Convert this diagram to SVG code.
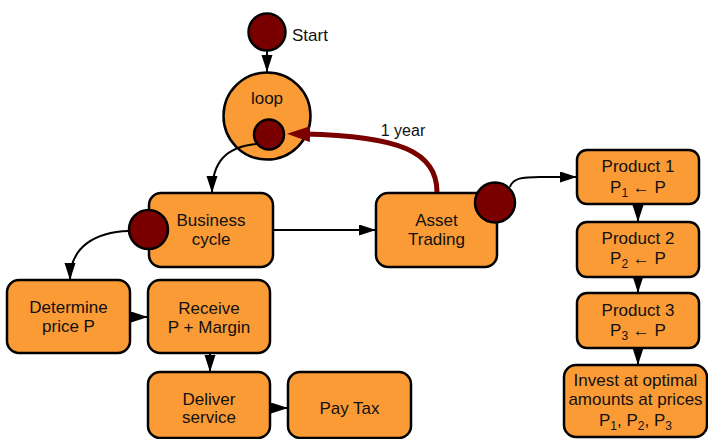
<svg xmlns="http://www.w3.org/2000/svg" width="708" height="439" viewBox="0 0 708 439">
<style>
.box{fill:#FB9B36;stroke:#000;stroke-width:2.5}
.dot{fill:#7A0000;stroke:#000;stroke-width:2.5}
.t{font-family:"Liberation Sans",Arial,sans-serif;font-size:17px;fill:#111;text-anchor:middle}
.c{fill:none;stroke:#000;stroke-width:2}
.sub{font-size:12px}
</style>
<defs>
<marker id="ah" markerUnits="userSpaceOnUse" markerWidth="18" markerHeight="12" refX="17" refY="5.5" orient="auto">
<path d="M0,0 L17,5.5 L0,11 z" fill="#000"/>
</marker>
<marker id="rh" markerUnits="userSpaceOnUse" markerWidth="24" markerHeight="18" refX="6" refY="8" orient="auto">
<path d="M0,0 L23,8 L0,16 z" fill="#7A0000"/>
</marker>
</defs>

<g id="start">
<circle class="dot" cx="267" cy="32" r="18.5"/>
<text class="t" x="292" y="41" style="text-anchor:start">Start</text>
</g>

<g id="loop">
<circle class="box" cx="267" cy="116" r="43.5"/>
<text class="t" x="267" y="104">loop</text>
<circle class="dot" cx="269" cy="134.5" r="15"/>
</g>

<text class="t" x="403" y="136" style="font-size:16px">1 year</text>

<g id="business">
<rect class="box" x="149" y="193" width="124" height="74" rx="12"/>
<text class="t" x="211" y="226">Business</text>
<text class="t" x="211" y="245">cycle</text>
<circle class="dot" cx="148.5" cy="229.5" r="19.5"/>
</g>

<g id="asset">
<rect class="box" x="376" y="193" width="121" height="74" rx="12"/>
<text class="t" x="436.5" y="226">Asset</text>
<text class="t" x="436.5" y="245">Trading</text>
<circle class="dot" cx="495" cy="202.5" r="20"/>
</g>

<g id="determine">
<rect class="box" x="7" y="280" width="123" height="73" rx="12"/>
<text class="t" x="68.5" y="313">Determine</text>
<text class="t" x="68.5" y="332">price P</text>
</g>

<g id="receive">
<rect class="box" x="148" y="280" width="122" height="73" rx="12"/>
<text class="t" x="209" y="314">Receive</text>
<text class="t" x="209" y="333">P + Margin</text>
</g>

<g id="deliver">
<rect class="box" x="148" y="372" width="122" height="66" rx="12"/>
<text class="t" x="209" y="405">Deliver</text>
<text class="t" x="209" y="423">service</text>
</g>

<g id="paytax">
<rect class="box" x="288" y="372" width="123" height="66" rx="12"/>
<text class="t" x="349.5" y="414">Pay Tax</text>
</g>

<g id="product1">
<rect class="box" x="577" y="150" width="122" height="54" rx="10"/>
<text class="t" x="638" y="172">Product 1</text>
<text class="t" x="638" y="193">P<tspan class="sub" dy="4">1</tspan><tspan dy="-4"> ← P</tspan></text>
</g>

<g id="product2">
<rect class="box" x="577" y="222" width="122" height="55" rx="10"/>
<text class="t" x="638" y="244">Product 2</text>
<text class="t" x="638" y="264">P<tspan class="sub" dy="4">2</tspan><tspan dy="-4"> ← P</tspan></text>
</g>

<g id="product3">
<rect class="box" x="577" y="293" width="122" height="55" rx="10"/>
<text class="t" x="638" y="316">Product 3</text>
<text class="t" x="638" y="336">P<tspan class="sub" dy="4">3</tspan><tspan dy="-4"> ← P</tspan></text>
</g>

<g id="invest">
<rect class="box" x="564" y="365" width="143" height="72" rx="12"/>
<text class="t" x="635.5" y="386">Invest at optimal</text>
<text class="t" x="635.5" y="405">amounts at prices</text>
<text class="t" x="635.5" y="426">P<tspan class="sub" dy="4">1</tspan><tspan dy="-4">, P</tspan><tspan class="sub" dy="4">2</tspan><tspan dy="-4">, P</tspan><tspan class="sub" dy="4">3</tspan></text>
</g>

<g id="connectors">
<line class="c" x1="267" y1="51" x2="267" y2="72" marker-end="url(#ah)"/>
<path class="c" d="M256,144 C226,147 212,162 212,193" marker-end="url(#ah)"/>
<path d="M437,192 C437,152 400,136 304,134" fill="none" stroke="#7A0000" stroke-width="5" marker-end="url(#rh)"/>
<line class="c" x1="274" y1="230" x2="376" y2="230" marker-end="url(#ah)"/>
<path class="c" d="M129,231 C96,232 70,246 70,280" marker-end="url(#ah)"/>
<path class="c" d="M510,187 C513,178 522,177 540,177 L577,177" marker-end="url(#ah)"/>
<line class="c" x1="131" y1="317" x2="148" y2="317" marker-end="url(#ah)"/>
<line class="c" x1="210" y1="354" x2="210" y2="372" marker-end="url(#ah)"/>
<line class="c" x1="271" y1="408" x2="288" y2="408" marker-end="url(#ah)"/>
<line class="c" x1="638" y1="205" x2="638" y2="222" marker-end="url(#ah)"/>
<line class="c" x1="638" y1="278" x2="638" y2="293" marker-end="url(#ah)"/>
<line class="c" x1="638" y1="349" x2="638" y2="365" marker-end="url(#ah)"/>
</g>
</svg>
